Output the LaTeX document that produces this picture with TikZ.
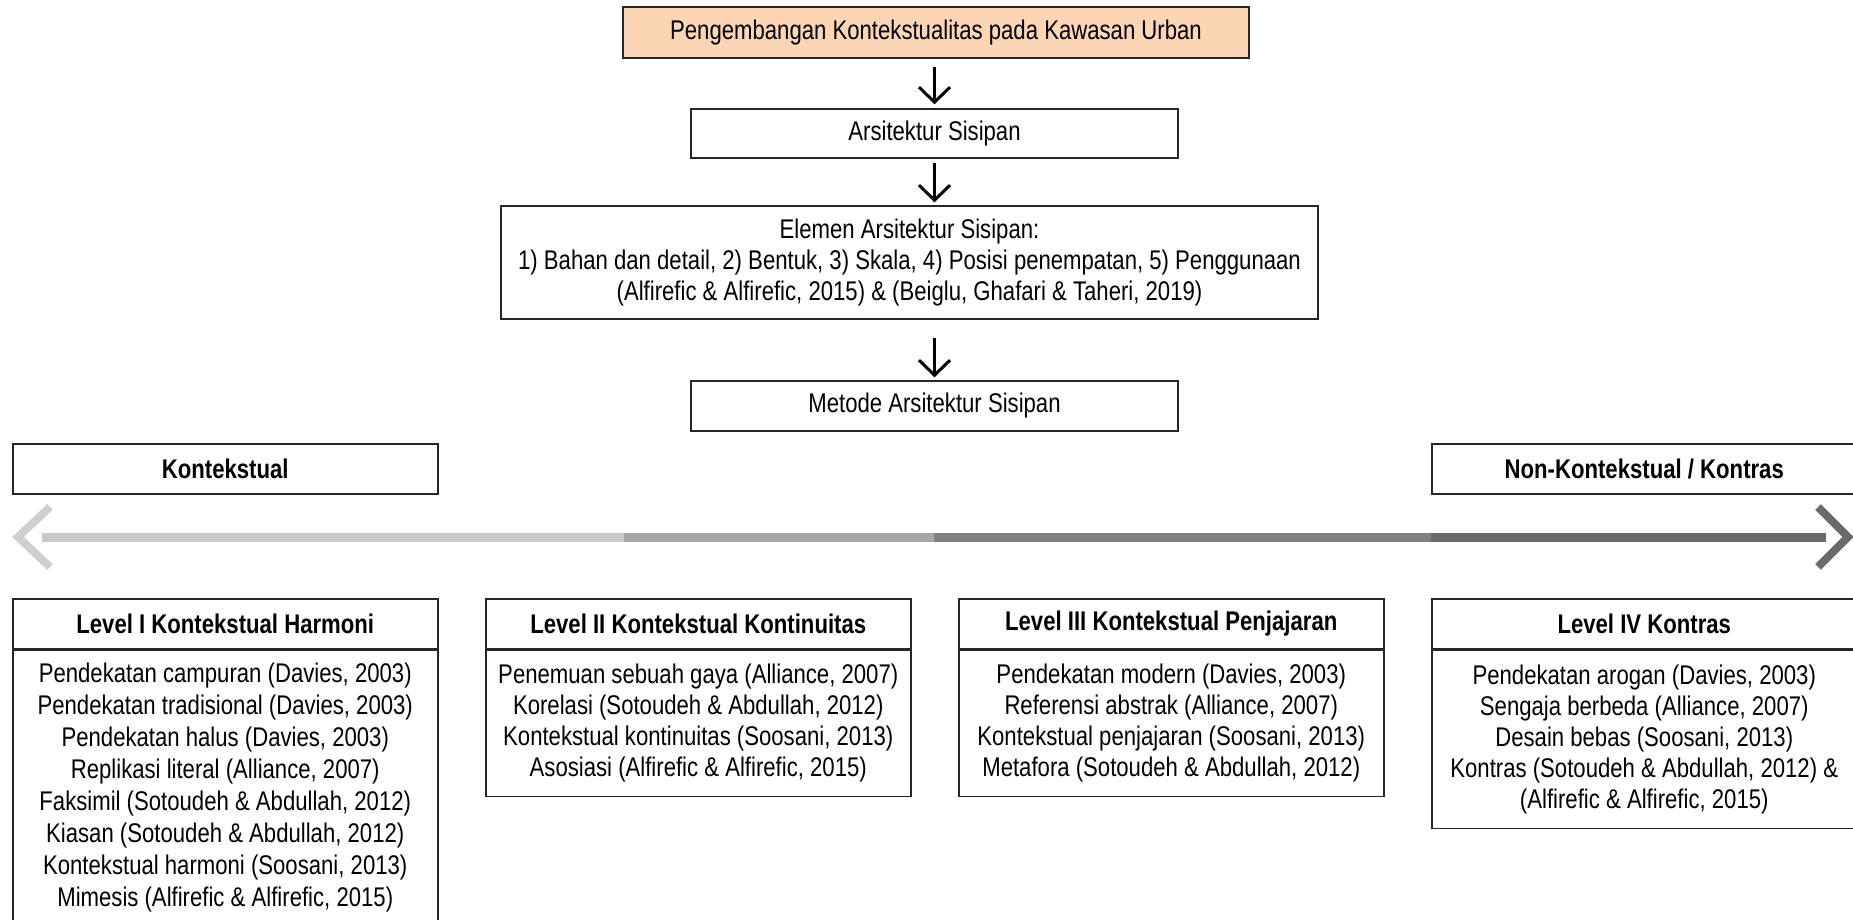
\documentclass[tikz,border=0pt]{standalone}
\usepackage{fontspec}
\setmainfont{Liberation Sans}[FakeStretch=0.82]
\usetikzlibrary{arrows.meta}
\definecolor{peach}{HTML}{FCD5B4}
\definecolor{segA}{HTML}{C9C9C9}
\definecolor{segB}{HTML}{A6A6A6}
\definecolor{segC}{HTML}{808080}
\definecolor{segD}{HTML}{6B6B6B}
\definecolor{chevL}{HTML}{CFCFCF}
\begin{document}
\begin{tikzpicture}[x=1pt,y=-1pt,
  box/.style={draw=black!85, line width=1.5pt, inner sep=0pt, align=center, font=\fontsize{27}{31}\selectfont},
  hdr/.style={box, font=\fontsize{27}{31}\selectfont\bfseries, minimum width=425, minimum height=50, anchor=north west},
  bodybox/.style={box, minimum width=425, anchor=north},
  arr/.style={line width=3pt, -{Straight Barb[length=15pt,width=31pt]}},
  scaleline/.style={line width=9pt},
  chevron/.style={line width=8pt, line join=miter},
]
\useasboundingbox (0,0) rectangle (1853,919);
\clip (0,0) rectangle (1853,919);

% top flow
\node[box, fill=peach, minimum width=626, minimum height=51] (top) at (936,32.5) {Pengembangan Kontekstualitas pada Kawasan Urban};
\node[box, minimum width=487, minimum height=49] (ars) at (934.5,133.5) {Arsitektur Sisipan};
\node[box, minimum width=817, minimum height=113] (elm) at (909.5,262.5) {Elemen Arsitektur Sisipan:\\1) Bahan dan detail, 2) Bentuk, 3) Skala, 4) Posisi penempatan, 5) Penggunaan\\(Alfirefic \& Alfirefic, 2015) \& (Beiglu, Ghafari \& Taheri, 2019)};
\node[box, minimum width=487, minimum height=50] (met) at (934.5,406) {Metode Arsitektur Sisipan};

\draw[arr, shorten <=8pt, shorten >=4pt] (top.south -| ars.north) -- (ars.north);
\draw[arr, shorten <=4pt, shorten >=3pt] (ars.south) -- (ars.south |- elm.north);
\draw[arr, shorten <=18pt, shorten >=3pt] (met.north |- elm.south) -- (met.north);

% poles
\node[hdr] (kon) at (12,443) {Kontekstual};
\node[hdr] (non) at (1431,443) {Non-Kontekstual / Kontras};

% scale arrow
\coordinate (s0) at (42,537);
\coordinate (s1) at (624,537);
\coordinate (s2) at (934,537);
\coordinate (s3) at (1431,537);
\coordinate (s4) at (1826,537);
\draw[scaleline, segA] (s0) -- (s1);
\draw[scaleline, segB] (s1) -- (s2);
\draw[scaleline, segC] (s2) -- (s3);
\draw[scaleline, segD] (s3) -- (s4);
\coordinate (cl1) at (50,507);
\coordinate (cl) at (18,537);
\coordinate (cl2) at (50,567);
\coordinate (cr1) at (1818,507);
\coordinate (cr) at (1848,537);
\coordinate (cr2) at (1818,567);
\draw[chevron, chevL] (cl1) -- (cl) -- (cl2);
\draw[chevron, segD] (cr1) -- (cr) -- (cr2);

% levels
\node[hdr] (h1) at (12,598) {Level I Kontekstual Harmoni};
\node[bodybox, minimum height=275, font=\fontsize{27}{32}\selectfont] (b1) at (h1.south) {Pendekatan campuran (Davies, 2003)\\Pendekatan tradisional (Davies, 2003)\\Pendekatan halus (Davies, 2003)\\Replikasi literal (Alliance, 2007)\\Faksimil (Sotoudeh \& Abdullah, 2012)\\Kiasan (Sotoudeh \& Abdullah, 2012)\\Kontekstual harmoni (Soosani, 2013)\\Mimesis (Alfirefic \& Alfirefic, 2015)};

\node[hdr] (h2) at (485,598) {Level II Kontekstual Kontinuitas};
\node[bodybox, minimum height=146] (b2) at (h2.south) {Penemuan sebuah gaya (Alliance, 2007)\\Korelasi (Sotoudeh \& Abdullah, 2012)\\Kontekstual kontinuitas (Soosani, 2013)\\Asosiasi (Alfirefic \& Alfirefic, 2015)};

\node[hdr] (h3) at (958,598) {Level III Kontekstual Penjajaran};
\node[bodybox, minimum height=146] (b3) at (h3.south) {Pendekatan modern (Davies, 2003)\\Referensi abstrak (Alliance, 2007)\\Kontekstual penjajaran (Soosani, 2013)\\Metafora (Sotoudeh \& Abdullah, 2012)};

\node[hdr] (h4) at (1431,598) {Level IV Kontras};
\node[bodybox, minimum height=178] (b4) at (h4.south) {Pendekatan arogan (Davies, 2003)\\Sengaja berbeda (Alliance, 2007)\\Desain bebas (Soosani, 2013)\\Kontras (Sotoudeh \& Abdullah, 2012) \&\\(Alfirefic \& Alfirefic, 2015)};
\end{tikzpicture}
\end{document}
